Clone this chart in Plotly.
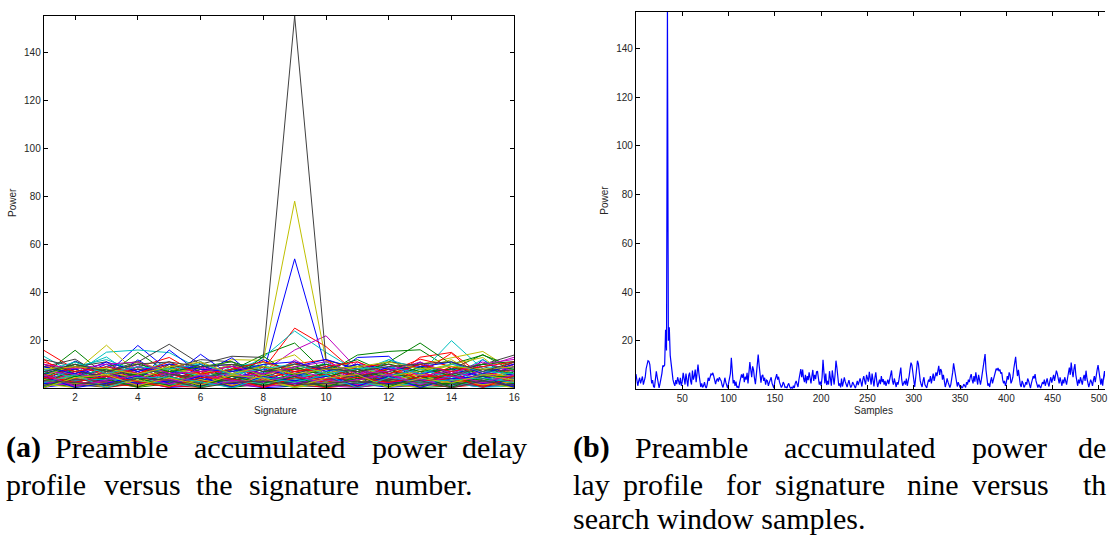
import plotly.graph_objects as go

# ---------------- data: panel (a) ----------------
signatures = list(range(1, 17))

# accumulated power per signature, one list per search-window position
pdp_a = [
    [4.2, 11.5, 6.1, 18.0, 7.3, 5.0, 3.1, 6.4, 54.0, 8.2, 5.5, 4.1, 3.3, 2.1, 6.0, 4.4],
    [6.0, 16.0, 5.2, 15.1, 6.3, 4.2, 7.7, 14.1, 19.0, 6.3, 14.0, 15.5, 16.2, 8.1, 14.2, 7.1],
    [16.0, 8.1, 4.3, 9.0, 13.0, 5.5, 4.1, 8.1, 25.2, 17.5, 6.1, 3.2, 13.1, 15.1, 5.2, 8.1],
    [13.5, 6.2, 15.2, 16.1, 15.0, 8.2, 6.1, 13.0, 24.0, 15.1, 7.2, 12.1, 6.3, 20.0, 8.1, 5.3],
    [8.1, 5.3, 11.2, 4.1, 6.2, 9.0, 3.2, 7.1, 16.1, 22.0, 8.2, 5.1, 4.2, 7.3, 9.1, 13.1],
    [9.2, 7.1, 18.1, 6.3, 10.1, 6.2, 12.1, 11.8, 78.0, 11.5, 9.3, 6.2, 10.2, 13.0, 15.5, 7.2],
    [12.1, 9.2, 7.3, 11.1, 18.5, 10.2, 13.5, 13.0, 155.0, 12.0, 8.1, 11.2, 9.3, 7.2, 10.1, 14.0],
]
pdp_b = [
    [3.1, 10.2, 2.5, 12.0, 4.1, 14.3, 5.2, 12.1, 6.1, 3.3, 13.0, 13.5, 2.2, 0.8, 12.1, 3.1],
    [7.2, 4.1, 9.3, 11.3, 3.2, 6.1, 10.1, 9.2, 7.1, 4.1, 6.2, 11.1, 19.0, 10.2, 14.0, 9.1],
    [10.1, 6.2, 3.1, 8.2, 7.1, 11.2, 2.1, 5.2, 10.3, 12.1, 4.2, 7.1, 12.3, 9.1, 6.2, 11.0],
    [5.1, 9.3, 12.1, 7.2, 11.3, 3.1, 9.2, 11.0, 8.1, 6.3, 10.1, 4.2, 9.1, 11.2, 3.3, 7.2],
    [2.2, 7.1, 5.3, 10.1, 2.1, 8.3, 6.2, 3.1, 12.0, 5.1, 3.2, 9.1, 6.2, 4.1, 10.3, 12.2],
    [6.1, 3.2, 8.1, 2.3, 9.2, 4.1, 1.2, 10.1, 14.1, 3.2, 7.1, 2.2, 8.3, 12.1, 4.2, 6.1],
    [9.1, 12.3, 4.2, 6.1, 8.3, 12.1, 11.2, 4.1, 7.2, 10.1, 5.2, 8.1, 3.1, 6.2, 9.3, 5.1],
]
pdp_c = [
    [8.0, 5.1, 10.2, 3.1, 16.1, 6.2, 12.9, 2.1, 9.1, 12.2, 8.1, 3.2, 11.1, 4.2, 7.1, 2.1],
    [4.1, 11.2, 6.3, 9.1, 5.2, 10.1, 3.2, 13.5, 5.1, 8.2, 12.1, 6.3, 4.1, 7.2, 10.2, 11.3],
    [12.2, 3.1, 7.2, 5.1, 10.2, 2.3, 8.1, 6.2, 11.1, 4.1, 9.2, 10.1, 6.3, 14.8, 3.1, 8.2],
    [3.2, 8.1, 13.2, 4.2, 6.1, 11.3, 5.1, 9.2, 4.3, 11.2, 3.1, 12.1, 8.2, 5.1, 12.2, 4.1],
    [10.3, 2.1, 9.2, 7.1, 3.2, 5.1, 10.1, 4.3, 7.2, 2.1, 11.1, 5.2, 10.1, 3.2, 5.3, 9.1],
    [2.1, 6.2, 4.1, 11.1, 7.2, 8.1, 4.2, 11.2, 5.3, 9.1, 2.3, 8.1, 5.2, 10.1, 13.0, 3.2],
    [5.3, 9.1, 11.2, 2.1, 10.1, 7.2, 9.3, 5.1, 8.2, 6.1, 10.2, 3.1, 9.2, 2.1, 6.1, 10.2],
]
pdp_d = [
    [1.2, 4.1, 3.2, 7.1, 2.1, 9.2, 10.1, 1.1, 5.2, 2.1, 6.2, 1.3, 5.1, 3.2, 8.1, 1.2],
    [5.2, 2.1, 7.1, 3.2, 8.1, 1.2, 4.1, 6.2, 2.1, 7.1, 3.3, 8.2, 2.1, 6.1, 1.2, 7.1],
    [2.3, 7.2, 1.1, 5.3, 3.1, 7.1, 2.2, 9.1, 3.2, 1.1, 8.1, 2.1, 7.3, 2.1, 5.2, 3.1],
    [7.1, 1.2, 5.2, 1.1, 6.2, 3.1, 8.2, 2.1, 6.3, 4.2, 1.2, 6.1, 3.2, 8.1, 2.1, 5.3],
    [4.2, 6.1, 2.1, 8.2, 1.2, 5.3, 1.1, 7.2, 1.1, 8.2, 4.1, 3.2, 1.1, 5.2, 7.1, 2.2],
    [1.1, 3.2, 6.2, 2.1, 5.1, 2.2, 6.1, 3.2, 9.1, 2.3, 5.2, 1.1, 6.1, 1.2, 3.1, 8.1],
    [6.2, 1.1, 4.3, 6.2, 1.1, 8.1, 3.2, 5.3, 1.2, 6.1, 2.1, 7.1, 4.2, 3.1, 6.2, 1.1],
]
pdp_e = [
    [3.3, 5.2, 8.1, 1.2, 4.3, 2.1, 5.2, 4.1, 2.2, 5.3, 1.1, 4.2, 2.3, 1.1, 4.1, 6.2],
    [2.1, 8.2, 3.2, 6.1, 2.2, 6.3, 1.2, 3.1, 6.2, 1.2, 7.1, 2.2, 5.1, 4.3, 2.2, 3.1],
    [6.1, 1.3, 5.1, 3.2, 7.1, 1.1, 5.3, 1.2, 4.1, 6.2, 2.1, 5.3, 1.2, 7.2, 1.1, 4.2],
    [1.2, 4.3, 2.1, 5.1, 1.2, 4.2, 2.1, 7.1, 1.3, 3.1, 5.2, 1.1, 4.2, 2.1, 6.1, 1.3],
    [5.1, 2.2, 7.2, 1.1, 5.2, 2.1, 7.3, 2.2, 5.1, 1.1, 4.1, 6.2, 2.1, 5.3, 3.1, 5.2],
    [3.1, 5.3, 1.2, 4.2, 3.1, 6.1, 2.1, 5.2, 3.1, 4.2, 1.1, 3.1, 6.2, 1.1, 4.2, 2.1],
    [4.2, 2.1, 3.3, 2.1, 6.2, 3.2, 1.1, 3.3, 4.2, 2.1, 6.3, 2.3, 3.1, 4.2, 2.1, 4.3],
]
pdp_f = [
    [0.6, 2.1, 1.2, 3.1, 0.5, 1.3, 2.2, 0.4, 1.1, 0.8, 2.1, 0.6, 1.3, 2.2, 0.7, 1.8],
    [2.2, 0.8, 3.1, 0.6, 2.1, 3.2, 0.5, 2.1, 0.7, 2.3, 0.6, 1.9, 0.5, 1.1, 3.1, 0.6],
    [1.1, 3.2, 0.5, 2.2, 1.1, 0.6, 3.1, 1.2, 2.2, 0.4, 1.7, 3.1, 2.2, 0.6, 1.9, 2.8],
    [3.1, 1.2, 2.3, 1.1, 3.2, 2.1, 1.2, 3.2, 0.5, 3.1, 2.8, 1.1, 3.1, 2.3, 0.6, 1.1],
    [0.8, 2.6, 1.8, 3.3, 0.7, 2.3, 1.6, 0.8, 3.1, 1.2, 0.5, 2.4, 0.8, 3.2, 1.2, 3.1],
    [1.9, 0.5, 2.8, 0.9, 2.6, 0.5, 2.7, 1.9, 1.3, 2.6, 3.3, 0.8, 2.7, 0.9, 2.5, 0.4],
    [2.7, 1.7, 0.6, 2.6, 1.6, 3.1, 0.9, 2.8, 2.2, 1.5, 1.1, 3.2, 1.2, 2.6, 1.1, 2.2],
]
pdp_g = [
    [6.1, 8.2, 4.1, 9.2, 6.3, 10.2, 4.1, 8.1, 5.2, 9.3, 4.2, 9.1, 6.2, 8.3, 5.1, 9.2],
    [9.3, 5.1, 8.2, 5.3, 9.1, 4.2, 8.3, 6.1, 9.2, 5.1, 8.2, 4.3, 9.1, 5.2, 8.1, 6.3],
    [4.2, 9.1, 6.3, 8.1, 4.2, 7.1, 9.2, 4.3, 7.1, 8.2, 5.1, 8.3, 4.2, 9.1, 7.2, 4.1],
    [8.2, 4.3, 9.1, 6.2, 8.1, 5.3, 6.2, 10.1, 4.2, 7.1, 9.3, 5.2, 8.1, 4.3, 9.2, 8.1],
    [7.1, 6.2, 4.2, 9.3, 5.1, 9.2, 5.1, 6.2, 8.3, 4.2, 6.1, 10.2, 5.3, 7.2, 4.1, 10.1],
    [5.2, 10.1, 7.1, 4.3, 8.2, 6.1, 10.1, 5.2, 10.1, 6.3, 9.1, 5.1, 7.2, 10.3, 6.2, 5.1],
    [10.2, 7.1, 5.2, 8.1, 6.2, 4.3, 7.1, 9.2, 6.1, 10.2, 5.2, 7.1, 10.2, 6.1, 8.2, 7.3],
]
pdp_h = [
    [2.1, 3.1, 4.2, 2.2, 3.3, 4.1, 2.2, 3.1, 2.1, 4.2, 3.1, 2.2, 4.1, 3.1, 2.2, 3.3],
    [4.1, 2.3, 1.5, 4.2, 1.3, 2.4, 4.1, 1.5, 3.2, 1.4, 4.3, 3.2, 1.5, 2.3, 4.2, 2.1],
    [3.3, 4.2, 2.2, 0.9, 4.2, 3.3, 1.2, 4.1, 1.2, 3.3, 0.8, 4.2, 3.1, 4.2, 1.3, 3.2],
    [0.9, 3.3, 4.1, 3.2, 2.1, 0.8, 3.3, 2.2, 4.1, 2.2, 2.3, 1.1, 2.3, 1.2, 3.3, 4.1],
    [2.8, 1.2, 3.1, 1.8, 3.9, 1.6, 2.9, 0.7, 2.3, 3.8, 1.6, 2.7, 3.8, 0.9, 2.6, 1.4],
    [3.7, 2.2, 0.8, 3.6, 0.9, 3.8, 1.4, 3.6, 0.6, 1.7, 3.2, 1.5, 0.7, 3.4, 1.6, 2.9],
    [1.5, 3.8, 2.7, 1.4, 2.7, 2.2, 3.7, 1.3, 3.5, 0.7, 2.4, 3.8, 2.6, 1.6, 3.5, 0.8],
]
pdp_i = [
    [9.1, 6.2, 11.1, 7.2, 10.3, 8.1, 7.2, 10.1, 11.2, 7.3, 10.1, 8.2, 9.1, 11.1, 6.2, 10.3],
    [6.2, 10.1, 7.3, 10.2, 7.1, 9.3, 11.2, 7.1, 8.1, 10.2, 7.1, 10.3, 7.2, 8.1, 10.2, 8.1],
    [11.1, 7.2, 9.1, 6.3, 11.2, 6.1, 8.1, 11.3, 7.2, 9.1, 11.2, 6.1, 10.1, 7.2, 9.3, 11.2],
    [7.3, 11.1, 6.2, 9.1, 8.2, 10.3, 6.1, 8.2, 10.3, 6.1, 8.3, 9.1, 6.3, 10.2, 7.1, 6.3],
    [10.1, 8.3, 10.2, 11.1, 6.3, 7.2, 9.3, 6.1, 9.1, 11.2, 6.2, 7.3, 11.1, 6.3, 11.1, 7.2],
    [8.2, 9.1, 8.3, 6.1, 9.1, 11.1, 6.2, 9.3, 6.1, 8.1, 9.2, 11.1, 8.2, 9.3, 8.1, 9.1],
    [7.1, 10.2, 7.1, 10.3, 11.1, 9.2, 10.1, 7.2, 10.2, 8.3, 7.1, 9.2, 10.3, 11.2, 7.2, 11.1],
]
pdp_j = [
    [5.1, 0.5, 2.2, 5.3, 2.1, 5.2, 0.6, 5.1, 3.3, 5.2, 1.1, 5.3, 0.5, 4.2, 5.1, 0.6],
    [0.5, 5.2, 4.1, 0.6, 5.3, 0.9, 5.2, 2.3, 5.1, 0.6, 5.2, 0.7, 5.3, 0.6, 5.2, 4.9],
    [4.8, 2.7, 5.3, 2.9, 0.6, 4.7, 4.1, 0.5, 4.6, 3.9, 4.7, 2.6, 4.9, 5.6, 0.5, 5.4],
    [2.5, 5.8, 0.4, 4.6, 4.8, 2.9, 0.4, 4.7, 2.7, 5.6, 0.4, 4.6, 2.8, 3.6, 4.5, 2.6],
    [5.9, 1.1, 3.6, 5.6, 1.9, 5.8, 3.4, 2.8, 5.7, 1.9, 3.7, 5.8, 1.6, 5.4, 2.6, 5.7],
    [0.4, 4.6, 5.8, 1.3, 4.5, 1.6, 5.6, 4.4, 0.5, 4.4, 5.9, 0.4, 4.4, 2.4, 5.8, 3.5],
    [3.4, 2.5, 1.6, 4.4, 3.5, 0.4, 2.5, 3.3, 1.6, 2.3, 3.1, 1.8, 3.4, 0.3, 3.3, 1.3],
]

# ---------------- data: panel (b) ----------------
sig9_power = [
    6.3, 4.0, 1.5, 3.5, 4.8, 2.5, 4.2, 5.3, 2.0, 3.8,
    5.0, 8.5, 11.0, 11.8, 11.5, 10.2, 6.0, 2.5, 3.8, 1.2,
    0.8, 4.5, 7.4, 5.0, 1.8, 0.6, 2.4, 3.9, 6.5, 9.8,
    9.5, 10.0, 24.5, 16.0, 158.0, 20.0, 25.5, 14.0, 10.0, 7.5,
    4.0, 2.5, 1.5, 3.8, 2.2, 5.0, 3.5, 2.0, 4.8, 1.5,
    3.2, 6.8, 4.5, 2.0, 6.5, 3.0, 1.2, 5.8, 6.9, 3.5,
    2.0, 7.8, 4.0, 5.5, 8.2, 3.0, 9.0, 10.2, 6.5, 2.0,
    1.0, 2.5, 0.8, 1.5, 3.0, 1.2, 0.5, 2.2, 4.8, 3.5,
    5.2, 6.3, 6.0, 6.8, 5.5, 3.0, 2.2, 3.8, 4.5, 3.2,
    5.0, 4.2, 3.5, 1.8, 0.8, 2.5, 4.8, 3.0, 1.2, 0.5,
    2.5, 5.8, 6.5, 13.0, 7.0, 2.5, 3.8, 1.5, 3.2, 0.8,
    1.2, 0.5, 2.8, 5.5, 6.2, 4.8, 6.5, 3.0, 5.2, 4.0,
    6.8, 2.5, 7.5, 11.2, 8.0, 5.0, 9.5, 8.0, 4.5, 2.2,
    6.0, 9.0, 14.3, 10.0, 4.5, 2.8, 5.5, 6.0, 3.5, 4.8,
    2.0, 3.8, 3.5, 1.5, 2.8, 4.2, 5.0, 2.5, 1.2, 0.5,
    3.5, 5.5, 6.3, 4.0, 5.2, 3.0, 2.0, 0.8, 1.5, 3.0,
    2.2, 0.8, 1.0, 0.5, 1.8, 2.5, 1.2, 0.4, 0.8, 0.3,
    1.5, 0.6, 2.5, 3.5, 2.2, 1.0, 4.0, 6.0, 8.4, 5.0,
    8.2, 4.5, 3.0, 6.0, 2.5, 5.5, 3.8, 7.0, 4.0, 2.5,
    5.5, 8.0, 3.5, 6.0, 4.2, 7.2, 7.5, 4.5, 2.0, 3.2,
    1.5, 5.0, 12.2, 7.0, 2.5, 6.5, 1.8, 3.5, 2.0, 7.5,
    5.0, 1.5, 7.8, 4.0, 2.0, 6.0, 11.8, 9.0, 4.0, 1.5,
    2.5, 0.8, 4.5, 1.2, 3.0, 5.0, 3.2, 2.0, 1.0, 2.5,
    3.8, 2.0, 0.8, 1.5, 3.0, 2.2, 1.0, 0.5, 2.0, 3.5,
    1.8, 2.8, 4.5, 3.0, 1.2, 4.0, 5.5, 3.5, 2.0, 6.0,
    4.5, 3.2, 7.2, 5.0, 2.0, 6.5, 3.0, 1.2, 4.8, 7.0,
    3.5, 1.0, 2.5, 4.0, 2.2, 5.5, 3.0, 4.2, 2.0, 3.5,
    1.5, 2.5, 4.0, 2.2, 3.8, 5.0, 7.8, 3.5, 2.0, 4.5,
    2.5, 1.0, 3.0, 2.0, 4.0, 6.0, 9.0, 4.0, 1.5, 2.5,
    3.5, 2.0, 4.5, 1.5, 3.0, 5.5, 8.5, 11.0, 10.0, 6.0,
    3.0, 1.0, 4.5, 7.5, 11.8, 10.5, 6.5, 3.5, 2.0, 1.0,
    3.5, 5.0, 2.0, 1.2, 0.6, 2.5, 4.0, 3.2, 5.5, 2.5,
    4.0, 6.5, 3.5, 5.0, 7.0, 5.5, 8.0, 9.7, 6.0, 8.4,
    7.5, 4.0, 6.0, 3.0, 1.0, 2.5, 4.5, 3.0, 1.5, 0.8,
    2.0, 4.0, 7.0, 10.7, 8.0, 4.5, 2.5, 1.2, 3.0, 1.8,
    0.8, 1.5, 0.6, 1.0, 2.2, 1.5, 0.8, 3.0, 2.0, 4.0,
    3.0, 5.0, 6.3, 4.0, 2.5, 5.5, 3.2, 7.0, 4.5, 2.0,
    6.0, 3.5, 2.0, 4.0, 6.5, 9.0, 12.0, 14.5, 8.0, 3.0,
    1.5, 2.5, 1.0, 3.5, 5.0, 2.5, 4.0, 6.0, 7.2, 8.5,
    8.0, 8.8, 7.5, 8.2, 6.5, 7.0, 4.0, 2.5, 3.5, 1.5,
    3.0, 5.5, 4.0, 7.0, 6.0, 2.5, 3.5, 5.0, 8.5, 11.0,
    13.4, 9.0, 5.5, 8.0, 4.5, 2.0, 1.0, 3.5, 2.5, 0.8,
    1.5, 3.0, 2.0, 4.5, 3.5, 1.2, 0.5, 2.5, 4.0, 5.5,
    4.5, 6.3, 3.5, 1.5, 0.8, 2.0, 1.2, 0.5, 1.8, 3.0,
    2.2, 4.0, 1.5, 3.0, 4.5, 2.5, 1.2, 3.5, 5.0, 2.8,
    4.0, 6.0, 3.5, 5.5, 7.7, 6.5, 4.0, 2.5, 5.0, 3.0,
    1.5, 4.0, 2.5, 5.0, 3.5, 2.0, 4.5, 7.0, 9.0, 6.0,
    11.0, 7.5, 5.0, 8.5, 10.4, 6.0, 3.0, 1.5, 4.0, 2.5,
    5.0, 3.5, 2.0, 4.5, 6.0, 3.5, 7.7, 4.5, 2.0, 1.0,
    2.5, 4.0, 3.0, 1.5, 3.8, 5.5, 3.0, 6.5, 8.0, 10.0,
    7.0, 3.5, 2.0, 4.5, 1.5, 5.0, 7.5, 4.0, 2.5, 3.5,
]
samples = list(range(len(sig9_power)))

x_ticks_a = [2, 4, 6, 8, 10, 12, 14, 16]
x_ticks_b = [50, 100, 150, 200, 250, 300, 350, 400, 450, 500]
y_ticks = [20, 40, 60, 80, 100, 120, 140]

# ---------------- figure ----------------
W, H = 1111, 536
matlab_colors = ["#0000ff", "#008000", "#ff0000", "#00bfbf", "#bf00bf", "#bfbf00", "#404040"]

fig = go.Figure()
all_lines = pdp_a + pdp_b + pdp_c + pdp_d + pdp_e + pdp_f + pdp_g + pdp_h + pdp_i + pdp_j
for i, row in enumerate(all_lines):
    fig.add_trace(go.Scatter(x=signatures, y=row, mode="lines",
                             line=dict(color=matlab_colors[i % 7], width=1),
                             xaxis="x", yaxis="y", showlegend=False, hoverinfo="skip"))

fig.add_trace(go.Scatter(x=samples, y=sig9_power, mode="lines",
                         line=dict(color="#0000ff", width=1.2),
                         xaxis="x2", yaxis="y2", showlegend=False, hoverinfo="skip"))

tickfont = dict(family="Liberation Sans, Arial, sans-serif", size=10, color="#262626")
common = dict(showline=True, linecolor="black", linewidth=1, ticks="inside", ticklen=4,
              tickcolor="black", tickwidth=1, showgrid=False, zeroline=False,
              tickfont=tickfont)


def px_x(p):
    return p / W


def px_y(p):
    return 1 - p / H


fig.update_layout(
    width=W, height=H, margin=dict(l=0, r=0, t=0, b=0),
    paper_bgcolor="white", plot_bgcolor="white",
    xaxis=dict(domain=[px_x(44), px_x(517)], range=[1, 16], tickvals=x_ticks_a,
               mirror="ticks", anchor="y", **common),
    yaxis=dict(domain=[px_y(388), px_y(16)], range=[0.3, 155], tickvals=y_ticks,
               mirror="ticks", anchor="x", **common),
    xaxis2=dict(domain=[px_x(639.4), 1.0], range=[0, 506.5], tickvals=x_ticks_b,
                mirror="ticks", anchor="y2", **common),
    yaxis2=dict(domain=[px_y(388.7), px_y(12)], range=[0.3, 155], tickvals=y_ticks,
                mirror=False, anchor="x2", **common),
)

label_font = dict(family="Liberation Sans, Arial, sans-serif", size=10, color="#262626")
annots = [
    dict(text="Power", x=px_x(12), y=px_y(202), textangle=-90),
    dict(text="Power", x=px_x(608), y=px_y(200), textangle=-90),
    dict(text="Signature", x=px_x(277), y=px_y(410)),
    dict(text="Samples", x=px_x(878), y=px_y(410)),
]
for a in annots:
    fig.add_annotation(xref="paper", yref="paper", showarrow=False, font=label_font,
                       xanchor="center", yanchor="middle", **a)

# captions (justified LaTeX-style lines, word by word; right panel text is cut by the page edge)
cap_font = dict(family="Liberation Serif, Times New Roman, serif", size=30, color="black")
cap_words = [
    (447, [("<b>(a)</b>", 3.6), ("Preamble", 53), ("accumulated", 193), ("power", 372), ("delay", 463)]),
    (484, [("profile", 3.6), ("versus", 103), ("the", 195), ("signature", 248), ("number.", 375)]),
    (447, [("<b>(b)</b>", 574), ("Preamble", 636), ("accumulated", 786), ("power", 975), ("de", 1082)]),
    (484, [("lay", 574), ("profile", 624), ("for", 728), ("signature", 777), ("nine", 910),
           ("versus", 975), ("th", 1087)]),
    (518, [("search window samples.", 574)]),
]
for yc, words in cap_words:
    for w, xl in words:
        fig.add_annotation(xref="paper", yref="paper", showarrow=False, font=cap_font,
                           text=w, x=px_x(xl), y=px_y(yc), xanchor="left", yanchor="middle")

clip_js = ("var d=document.getElementById('{plot_id}');"
           "d.style.overflow='hidden';d.style.width='1111px';d.style.height='536px';"
           "document.body.style.margin='0';document.body.style.overflow='hidden';"
           "document.documentElement.style.overflow='hidden';")
fig.write_html("out.html", post_script=clip_js)
